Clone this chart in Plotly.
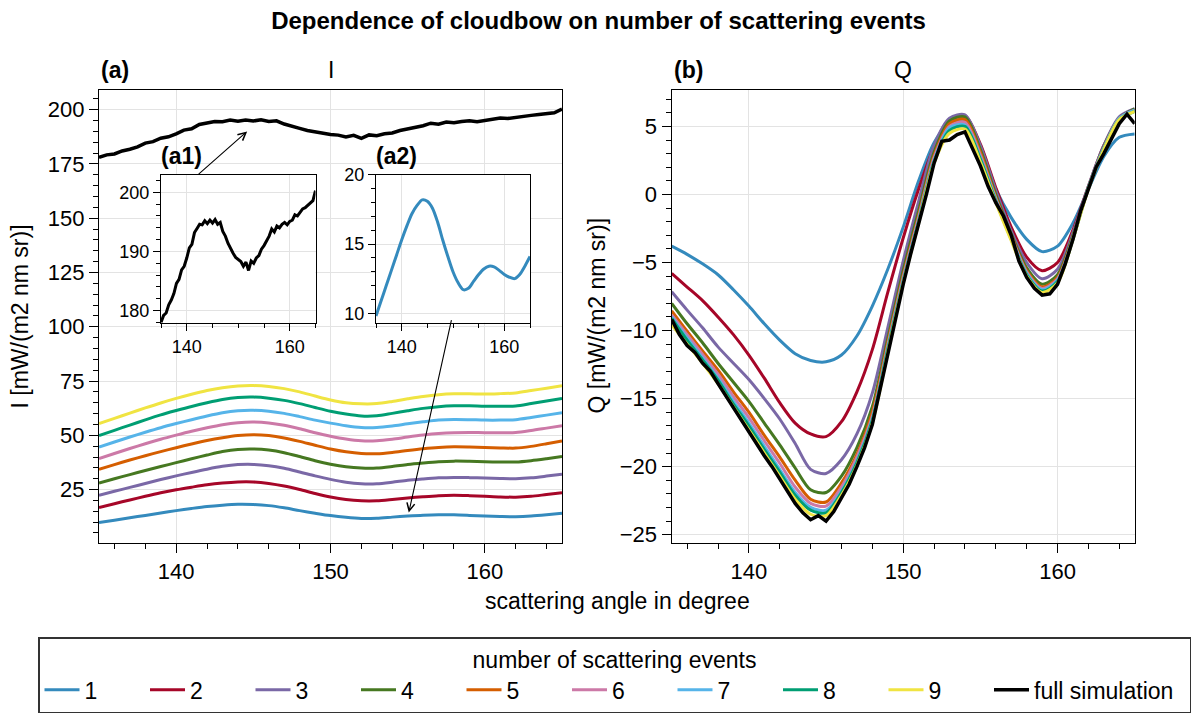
import plotly.graph_objects as go

# ---------------- data ----------------
angles = [135, 136, 137, 138, 139, 140, 141, 142, 143, 144, 145, 146, 147, 148, 149, 150,
          151, 152, 153, 154, 155, 156, 157, 158, 159, 160, 161, 162, 163, 164, 165]
angles_half = [135.0, 135.5, 136.0, 136.5, 137.0, 137.5, 138.0, 138.5, 139.0, 139.5, 140.0,
               140.5, 141.0, 141.5, 142.0, 142.5, 143.0, 143.5, 144.0, 144.5, 145.0, 145.5,
               146.0, 146.5, 147.0, 147.5, 148.0, 148.5, 149.0, 149.5, 150.0, 150.5, 151.0,
               151.5, 152.0, 152.5, 153.0, 153.5, 154.0, 154.5, 155.0, 155.5, 156.0, 156.5,
               157.0, 157.5, 158.0, 158.5, 159.0, 159.5, 160.0, 160.5, 161.0, 161.5, 162.0,
               162.5, 163.0, 163.5, 164.0, 164.5, 165.0]

series_names = ["1", "2", "3", "4", "5", "6", "7", "8", "9", "full simulation"]
series_colors = ["#348ABD", "#A60628", "#7A68A6", "#467821", "#D55E00",
                 "#CC79A7", "#56B4E9", "#009E73", "#F0E442", "#000000"]

# Intensity I [mW/(m2 nm sr)]
I_1 = [9.8, 10.9, 12.0, 13.1, 14.2, 15.3, 16.3, 17.2, 17.8, 18.2, 18.1, 17.6, 16.6, 15.3, 14.1, 13.0,
       12.2, 11.7, 11.8, 12.3, 12.8, 13.2, 13.4, 13.35, 13.1, 12.8, 12.6, 12.5, 12.8, 13.4, 14.1]
I_2 = [16.7, 18.5, 20.2, 21.9, 23.5, 24.9, 26.1, 27.2, 28.0, 28.5, 28.5, 27.8, 26.6, 25.0, 23.2, 21.6,
       20.4, 19.8, 19.8, 20.4, 21.1, 21.7, 22.2, 22.4, 22.2, 21.9, 21.6, 21.5, 21.9, 22.7, 23.5]
I_3 = [22.3, 24.2, 26.0, 27.8, 29.6, 31.3, 32.9, 34.4, 35.7, 36.5, 36.6, 36.0, 34.8, 33.1, 31.3, 29.7,
       28.4, 27.7, 27.7, 28.4, 29.3, 29.9, 30.4, 30.6, 30.5, 30.3, 30.1, 30.0, 30.4, 31.2, 32.1]
I_4 = [28.0, 30.0, 31.9, 33.8, 35.6, 37.4, 39.2, 40.9, 42.5, 43.5, 43.7, 43.2, 42.0, 40.2, 38.3, 36.7,
       35.5, 34.9, 34.9, 35.6, 36.5, 37.2, 37.8, 38.1, 38.0, 37.8, 37.7, 37.7, 38.3, 39.2, 40.2]
I_5 = [34.3, 36.5, 38.6, 40.6, 42.5, 44.3, 46.0, 47.6, 48.9, 49.9, 50.3, 49.9, 48.8, 47.2, 45.4, 43.7,
       42.4, 41.6, 41.5, 42.1, 43.0, 43.8, 44.4, 44.7, 44.6, 44.4, 44.2, 44.1, 44.9, 46.1, 47.4]
I_6 = [39.3, 41.6, 43.9, 46.1, 48.2, 50.1, 51.9, 53.5, 54.9, 55.8, 56.1, 55.7, 54.6, 53.0, 51.2, 49.6,
       48.3, 47.5, 47.5, 48.2, 49.2, 50.1, 50.8, 51.2, 51.3, 51.2, 51.2, 51.3, 52.2, 53.3, 54.4]
I_7 = [44.6, 46.9, 49.2, 51.4, 53.5, 55.4, 57.2, 58.9, 60.4, 61.3, 61.5, 61.1, 60.1, 58.6, 57.0, 55.6,
       54.4, 53.6, 53.6, 54.3, 55.3, 56.2, 57.0, 57.3, 57.2, 57.0, 57.0, 57.2, 58.2, 59.3, 60.4]
I_8 = [49.9, 52.3, 54.7, 57.1, 59.4, 61.4, 63.3, 65.0, 66.5, 67.4, 67.6, 67.1, 66.1, 64.6, 62.8, 61.1,
       59.8, 58.9, 59.0, 60.1, 61.3, 62.4, 63.2, 63.6, 63.6, 63.4, 63.4, 63.5, 64.6, 65.8, 67.0]
I_9 = [55.4, 57.8, 60.2, 62.6, 64.9, 67.0, 68.9, 70.6, 71.9, 72.7, 72.9, 72.5, 71.5, 70.0, 68.1, 66.3,
       65.0, 64.5, 64.6, 65.6, 66.8, 67.9, 68.7, 69.1, 69.1, 69.0, 69.2, 69.5, 70.6, 71.7, 72.8]
I_full = [178.0, 179.2, 179.6, 181.0, 181.8, 182.9, 184.6, 185.3, 186.9, 187.5, 188.9, 190.6, 191.2,
          193.2, 193.9, 194.6, 194.5, 195.2, 194.7, 195.3, 194.8, 195.4, 194.6, 194.9, 193.4, 192.6,
          191.4, 190.4, 189.7, 189.0, 188.6, 188.3, 187.5, 188.2, 186.8, 188.4, 188.0, 188.9, 189.3,
          190.4, 191.0, 191.9, 192.6, 193.8, 193.3, 194.3, 194.0, 194.6, 194.9, 194.5, 195.1, 195.3,
          196.2, 196.0, 196.6, 197.2, 197.4, 197.8, 198.3, 198.6, 200.3]

# Polarisation Q [mW/(m2 nm sr)]
Q_1 = [-3.8, -4.4, -5.1, -5.9, -7.0, -8.2, -9.5, -10.7, -11.7, -12.2, -12.3, -11.8, -10.4, -8.2, -5.5, -2.4,
       1.0, 3.8, 5.3, 5.4, 3.2, 0.4, -1.7, -3.3, -4.2, -3.8, -2.1, 0.4, 2.8, 4.2, 4.45]
Q_2 = [-5.8, -6.8, -7.8, -9.0, -10.3, -11.8, -13.5, -15.3, -16.8, -17.6, -17.8, -16.7, -14.5, -11.4, -7.2, -3.2,
       0.4, 3.5, 5.5, 5.8, 3.7, 0.5, -2.4, -4.6, -5.6, -5.0, -2.6, 0.6, 3.6, 5.6, 6.2]
Q_3 = [-7.15, -8.5, -9.8, -11.2, -12.4, -13.6, -15.0, -16.5, -18.3, -20.2, -20.5, -19.5, -17.6, -14.6, -9.8, -4.9,
       -0.5, 3.6, 5.6, 5.85, 3.6, 0.3, -2.7, -5.0, -6.2, -5.5, -2.8, 0.6, 3.6, 5.7, 6.3]
Q_4 = [-8.0, -9.5, -10.9, -12.4, -13.8, -15.2, -16.8, -18.4, -20.1, -21.7, -21.9, -20.7, -18.6, -15.6, -10.6, -5.6,
       -1.2, 3.1, 5.4, 5.7, 3.3, 0.0, -2.9, -5.4, -6.6, -5.9, -3.0, 0.5, 3.5, 5.6, 6.3]
Q_5 = [-8.55, -10.05, -11.5, -12.9, -14.5, -16.0, -17.7, -19.3, -21.0, -22.4, -22.6, -21.2, -19.1, -16.0, -10.9, -5.95,
       -1.55, 2.85, 5.2, 5.5, 3.1, -0.2, -3.0, -5.6, -6.8, -6.1, -3.1, 0.5, 3.4, 5.6, 6.2]
Q_6 = [-8.85, -10.3, -11.75, -13.2, -14.85, -16.4, -18.1, -19.75, -21.5, -22.7, -22.9, -21.5, -19.3, -16.3, -11.1, -6.1,
       -1.7, 2.7, 5.0, 5.3, 2.9, -0.3, -3.1, -5.7, -6.9, -6.2, -3.2, 0.5, 3.4, 5.6, 6.2]
Q_7 = [-9.0, -10.55, -12.0, -13.5, -15.2, -16.8, -18.5, -20.2, -21.9, -23.0, -23.2, -21.8, -19.6, -16.5, -11.3, -6.3,
       -1.9, 2.5, 4.9, 5.1, 2.7, -0.4, -3.2, -5.8, -7.0, -6.3, -3.2, 0.5, 3.4, 5.6, 6.2]
Q_8 = [-9.1, -10.7, -12.15, -13.65, -15.4, -17.0, -18.75, -20.4, -22.1, -23.2, -23.4, -21.9, -19.7, -16.6, -11.4, -6.4,
       -2.0, 2.4, 4.7, 5.0, 2.6, -0.5, -3.3, -5.9, -7.1, -6.4, -3.3, 0.5, 3.3, 5.5, 6.1]
Q_9 = [-9.6, -11.0, -12.4, -13.9, -15.6, -17.3, -19.0, -20.7, -22.4, -23.5, -23.6, -22.1, -19.9, -16.8, -11.6, -6.5,
       -2.1, 2.3, 4.5, 4.8, 2.4, -0.6, -3.4, -6.0, -7.2, -6.5, -3.3, 0.4, 3.3, 5.5, 6.1]
Q_full = [-9.2, -10.3, -11.1, -11.6, -12.4, -13.0, -13.9, -14.8, -15.6, -16.5, -17.4, -18.3, -19.2,
          -20.0, -20.9, -21.8, -22.7, -23.4, -23.9, -23.6, -24.0, -23.3, -22.3, -21.3, -20.0, -18.6,
          -16.9, -14.3, -11.6, -9.0, -6.6, -4.3, -2.2, 0.0, 2.3, 3.9, 4.0, 4.4, 4.6, 3.4, 2.1, 0.6,
          -0.6, -1.6, -3.0, -4.9, -6.1, -6.9, -7.4, -7.3, -6.6, -5.1, -3.3, -1.2, 0.5, 2.0, 3.0, 4.1,
          5.2, 5.9, 5.2]

I_series = [I_1, I_2, I_3, I_4, I_5, I_6, I_7, I_8, I_9]
Q_series = [Q_1, Q_2, Q_3, Q_4, Q_5, Q_6, Q_7, Q_8, Q_9]

# ---------------- figure ----------------
W, H = 1197, 713
FONT = "Liberation Sans, Arial, Helvetica, sans-serif"


def px_x(p):
    return p / W


def px_y(p):
    return 1 - p / H


fig = go.Figure()

for k in range(9):
    fig.add_trace(go.Scatter(x=angles, y=I_series[k], name=series_names[k], mode="lines",
                             line=dict(color=series_colors[k], width=3, shape="spline", smoothing=0.8),
                             xaxis="x", yaxis="y", legendwidth=55.5))
fig.add_trace(go.Scatter(x=angles_half, y=I_full, name=series_names[9], mode="lines",
                         line=dict(color=series_colors[9], width=3.5),
                         xaxis="x", yaxis="y", legendwidth=150))

for k in range(9):
    fig.add_trace(go.Scatter(x=angles, y=Q_series[k], name=series_names[k], mode="lines",
                             line=dict(color=series_colors[k], width=3, shape="spline", smoothing=0.8),
                             xaxis="x2", yaxis="y2", showlegend=False))
fig.add_trace(go.Scatter(x=angles_half, y=Q_full, name=series_names[9], mode="lines",
                         line=dict(color=series_colors[9], width=3.5),
                         xaxis="x2", yaxis="y2", showlegend=False))

# insets
fig.add_trace(go.Scatter(x=angles_half, y=I_full, name=series_names[9], mode="lines",
                         line=dict(color=series_colors[9], width=3),
                         xaxis="x3", yaxis="y3", showlegend=False))
fig.add_trace(go.Scatter(x=angles, y=I_1, name=series_names[0], mode="lines",
                         line=dict(color=series_colors[0], width=3, shape="spline", smoothing=0.8),
                         xaxis="x4", yaxis="y4", showlegend=False))


def axis(domain, rng, dtick, mdtick, anchor, size=22, ticklen=9, mticklen=5, tickvals=None):
    d = dict(domain=domain, range=rng, anchor=anchor, showline=True, mirror=True,
             linecolor="#000000", linewidth=1.4, ticks="outside", ticklen=ticklen, tickwidth=1.3,
             tickcolor="#000000", showgrid=True, gridcolor="#e3e3e3", gridwidth=1, zeroline=False,
             tickfont=dict(size=size, color="#000000", family=FONT),
             minor=dict(ticks="outside", ticklen=mticklen, tickwidth=1, tickcolor="#000000",
                        dtick=mdtick, showgrid=False))
    if tickvals is not None:
        d["tickmode"] = "array"
        d["tickvals"] = tickvals
    else:
        d["dtick"] = dtick
        d["tick0"] = 0
    return d


yb, yt = px_y(543.5), px_y(81.7)
left_x = [px_x(99), px_x(562)]
right_x = [px_x(671.7), px_x(1134.7)]
in_y = [px_y(319), px_y(168.3)]
a1_x = [px_x(161), px_x(315.5)]
a2_x = [px_x(376), px_x(530)]

fig.update_layout(
    width=W, height=H, autosize=False,
    margin=dict(l=0, r=0, t=0, b=0),
    paper_bgcolor="white", plot_bgcolor="white",
    font=dict(family=FONT, size=22, color="#000000"),
    xaxis=axis(left_x, [135, 165], 10, 2, "y"),
    yaxis=axis([yb, yt], [0.46, 209.04], 25, 5, "x"),
    xaxis2=axis(right_x, [135, 165], 10, 2, "y2"),
    yaxis2=axis([yb, yt], [-25.6, 7.67], 5, 1, "x2"),
    xaxis3=axis(a1_x, [135, 165], None, 5, "y3", size=18, ticklen=7, mticklen=4, tickvals=[140, 160]),
    yaxis3=axis(in_y, [177.96, 202.93], 10, 2, "x3", size=18, ticklen=7, mticklen=4),
    xaxis4=axis(a2_x, [135, 165], None, 5, "y4", size=18, ticklen=7, mticklen=4, tickvals=[140, 160]),
    yaxis4=axis(in_y, [9.31, 20.0], 5, 1, "x4", size=18, ticklen=7, mticklen=4),
    title=dict(text="<b>Dependence of cloudbow on number of scattering events</b>",
               x=0.5, xanchor="center", y=px_y(21), yanchor="middle", yref="container",
               font=dict(size=24, family=FONT, color="#000000")),
    legend=dict(orientation="h", x=px_x(38), xanchor="left", y=px_y(640), yanchor="top",
                bgcolor="white", bordercolor="#333333", borderwidth=1.5,
                font=dict(size=23, family=FONT, color="#000000"),
                itemwidth=35, entrywidthmode="pixels",
                title=dict(text="number of scattering events", side="top center",
                           font=dict(size=23, family=FONT, color="#000000"))),
)

ann_font = dict(family=FONT, color="#000000")
annotations = [
    dict(text="<b>(a)</b>", x=px_x(99), y=px_y(61), xanchor="left", yanchor="middle",
         font=dict(size=23, **ann_font)),
    dict(text="I", x=px_x(330.5), y=px_y(61), xanchor="center", yanchor="middle",
         font=dict(size=23, **ann_font)),
    dict(text="<b>(b)</b>", x=px_x(671.7), y=px_y(61), xanchor="left", yanchor="middle",
         font=dict(size=23, **ann_font)),
    dict(text="Q", x=px_x(903.2), y=px_y(61), xanchor="center", yanchor="middle",
         font=dict(size=23, **ann_font)),
    dict(text="<b>(a1)</b>", x=px_x(159), y=px_y(149), xanchor="left", yanchor="middle",
         font=dict(size=23, **ann_font)),
    dict(text="<b>(a2)</b>", x=px_x(374), y=px_y(149), xanchor="left", yanchor="middle",
         font=dict(size=23, **ann_font)),
    dict(text="scattering angle in degree", x=px_x(617), y=px_y(603), xanchor="center",
         yanchor="middle", font=dict(size=23, **ann_font)),
    dict(text="I [mW/(m2 nm sr)]", x=px_x(20), y=px_y(312.6), xanchor="center", yanchor="middle",
         textangle=-90, font=dict(size=23, **ann_font)),
    dict(text="Q [mW/(m2 nm sr)]", x=px_x(597), y=px_y(312.6), xanchor="center", yanchor="middle",
         textangle=-90, font=dict(size=23, **ann_font)),
]
for a in annotations:
    a.update(xref="paper", yref="paper", showarrow=False)

# arrows from insets to the curves they magnify
annotations.append(dict(text="", x=144.6, y=190.0, xref="x", yref="y", ax=-50, ay=44,
                        showarrow=True, arrowhead=5, arrowsize=1.4, arrowwidth=1.1,
                        arrowcolor="#000000"))
annotations.append(dict(text="", x=155.07, y=14.4, xref="x", yref="y", ax=43, ay=-194,
                        showarrow=True, arrowhead=5, arrowsize=1.4, arrowwidth=1.1,
                        arrowcolor="#000000"))
fig.update_layout(annotations=annotations)

fig.write_html("out.html", post_script="document.body.style.margin='0px';")
